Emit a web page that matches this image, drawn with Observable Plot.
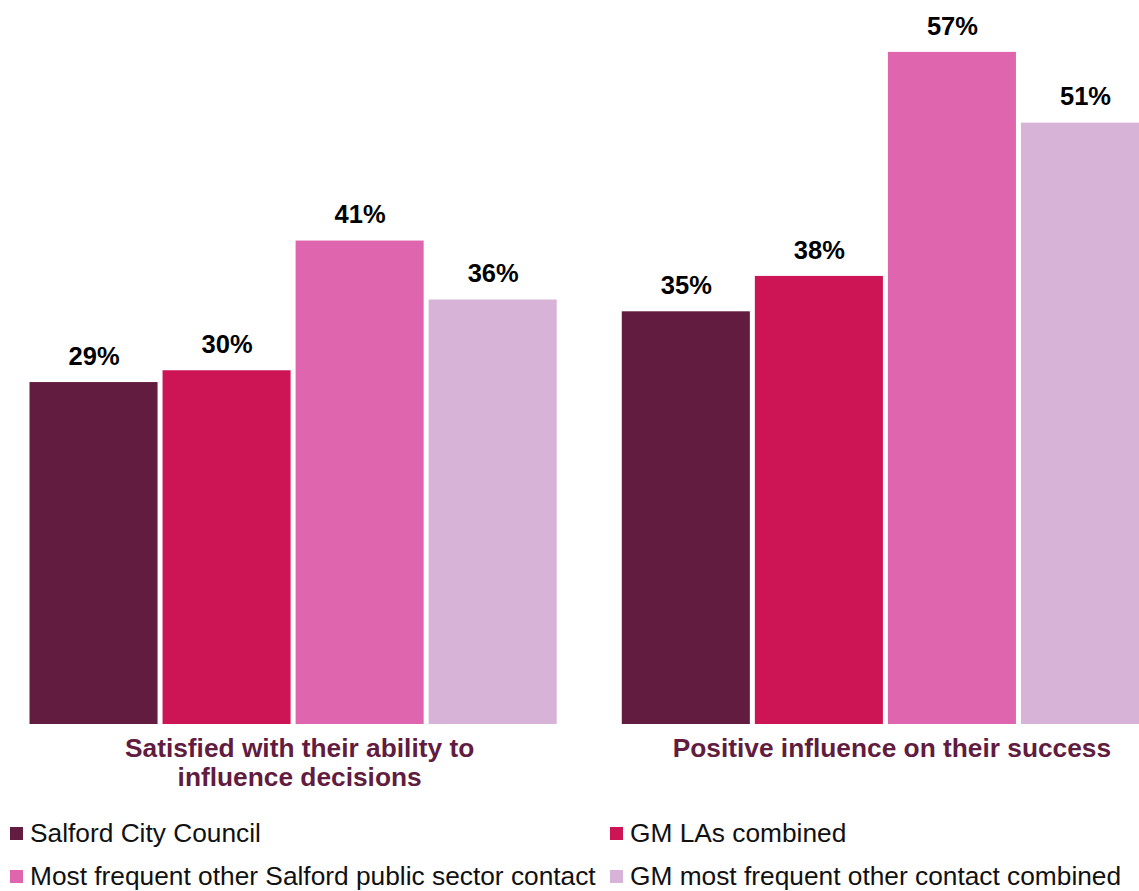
<!DOCTYPE html>
<html>
<head>
<meta charset="utf-8">
<script src="https://cdn.jsdelivr.net/npm/d3@7"></script>
<script src="https://cdn.jsdelivr.net/npm/@observablehq/plot@0.6"></script>
<style>
  html, body { margin: 0; padding: 0; background: #fff; overflow: hidden; }
  #wrap { width: 1139px; overflow: hidden; font-family: "Liberation Sans", Arial, sans-serif; }
  #chart svg { max-width: none !important; display: block; }
  #legend { display: grid; grid-template-columns: 600px auto; padding-left: 10px; padding-top: 12px; }
  .item { display: flex; align-items: center; height: 43px; font-size: 26.3px; color: #111; white-space: nowrap; }
  .sw { width: 13px; height: 13px; margin-right: 7px; box-sizing: border-box; flex: none; }
</style>
</head>
<body>
<div id="wrap">
  <div id="chart"></div>
  <div id="legend"></div>
</div>
<script>
const categories = ["Satisfied with their ability to influence decisions", "Positive influence on their success"];
const categoryLabels = ["Satisfied with their ability to\ninfluence decisions", "Positive influence on their success"];
const series = ["Salford City Council", "GM LAs combined", "Most frequent other Salford public sector contact", "GM most frequent other contact combined"];
const colors = ["#611c3f", "#cd1455", "#df65ae", "#d8b3d8"];
const satisfiedValues = [29, 30, 41, 36];
const influenceValues = [35, 38, 57, 51];

const data = [];
series.forEach((s, i) => {
  data.push({category: categories[0], series: s, value: satisfiedValues[i]});
  data.push({category: categories[1], series: s, value: influenceValues[i]});
});

const chart = Plot.plot({
  width: 1154,
  height: 800,
  marginLeft: 24.5,
  marginRight: 0,
  marginTop: 0,
  marginBottom: 76,
  style: {fontFamily: "Liberation Sans, Arial, sans-serif", background: "white"},
  fx: {domain: categories, paddingInner: 0.093, paddingOuter: 0, round: false, axis: null},
  x: {domain: series, padding: 0.0376, round: false, axis: null},
  y: {domain: [0, 61.4], axis: null},
  color: {domain: series, range: colors},
  marks: [
    Plot.barY(data, {fx: "category", x: "series", y: "value", fill: "series"}),
    Plot.text(data, {fx: "category", x: "series", y: "value", text: d => d.value + "%", dy: -26, fontSize: 25.5, fontWeight: "bold", fill: "#000"}),
    Plot.axisFx({anchor: "bottom", tickSize: 0, tickPadding: 12, label: null, dx: 6,
      tickFormat: d => categoryLabels[categories.indexOf(d)],
      fontSize: 26.3, fontWeight: "bold", fill: "#611c3f", lineHeight: 1.1})
  ]
});
document.getElementById("chart").appendChild(chart);

const legend = document.getElementById("legend");
[0, 1, 2, 3].forEach(i => {
  const item = document.createElement("div");
  item.className = "item";
  const sw = document.createElement("span");
  sw.className = "sw";
  sw.style.background = colors[i];
  const t = document.createElement("span");
  t.textContent = series[i];
  item.appendChild(sw);
  item.appendChild(t);
  legend.appendChild(item);
});
</script>
</body>
</html>
